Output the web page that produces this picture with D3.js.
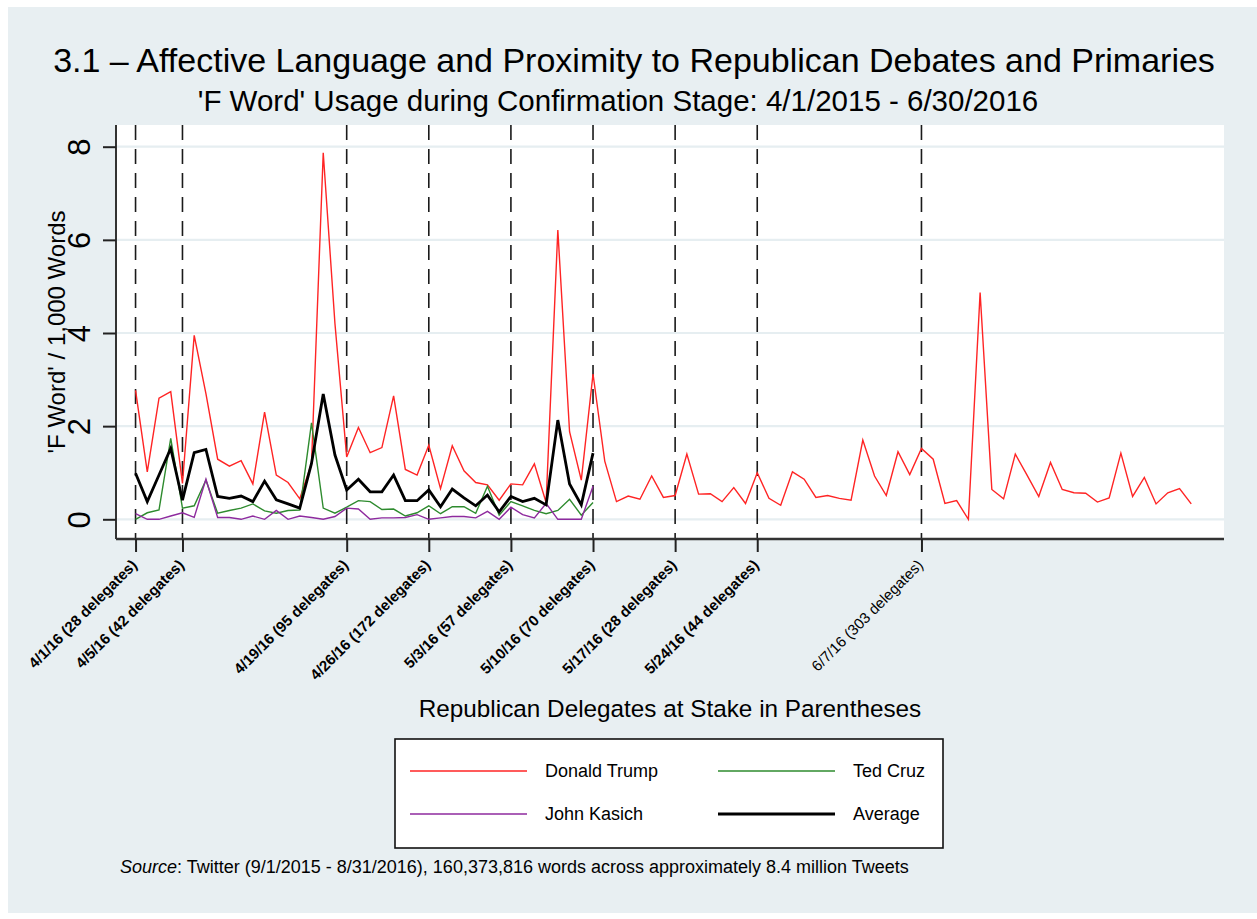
<!DOCTYPE html>
<html>
<head>
<meta charset="utf-8">
<script src="https://cdn.jsdelivr.net/npm/d3@7"></script>
<style>
  body { margin: 0; background: #fff; }
  text { font-family: Helvetica, Arial, "Liberation Sans", sans-serif; }
</style>
</head>
<body>
<div id="chart"></div>
<script>
const _WIDTH = 1257
const _HEIGHT = 919
const _PLOT = { left: 116, right: 1224, top: 125, bottom: 539 }

// Data
// ===================================
const startDate = "2016-04-01"
const endDate = "2016-06-30"

// 'F Word' per 1,000 words, daily 4/1 - 6/30
const trump = [
    2.77, 1.02, 2.6, 2.74, 0.77, 3.95, 2.7, 1.29, 1.14, 1.26,
    0.76, 2.3, 0.95, 0.79, 0.44, 1.2, 7.87, 4.2, 1.34, 1.97,
    1.43, 1.54, 2.65, 1.07, 0.95, 1.59, 0.66, 1.58, 1.04, 0.79,
    0.74, 0.41, 0.76, 0.74, 1.19, 0.36, 6.21, 1.88, 0.84, 3.12,
    1.25, 0.38, 0.5, 0.43, 0.93, 0.47, 0.51, 1.4, 0.54, 0.55,
    0.38, 0.68, 0.34, 1.0, 0.45, 0.3, 1.02, 0.86, 0.47, 0.51,
    0.45, 0.41, 1.7, 0.93, 0.51, 1.45, 0.96, 1.52, 1.29, 0.34,
    0.4, 0.0, 4.87, 0.64, 0.44, 1.4, 0.95, 0.49, 1.22, 0.64,
    0.57, 0.56, 0.37, 0.46, 1.42, 0.49, 0.9, 0.33, 0.57, 0.66,
    0.33
]
// 4/1 - 5/10 only
const cruz = [
    0.0, 0.14, 0.2, 1.74, 0.24, 0.29, 0.84, 0.13, 0.19, 0.24,
    0.33, 0.18, 0.13, 0.19, 0.2, 2.07, 0.24, 0.13, 0.26, 0.4,
    0.38, 0.21, 0.22, 0.07, 0.14, 0.29, 0.12, 0.27, 0.27, 0.13,
    0.71, 0.09, 0.38, 0.29, 0.19, 0.12, 0.19, 0.43, 0.09, 0.36
]
const kasich = [
    0.12, 0.0, 0.0, 0.07, 0.14, 0.04, 0.86, 0.04, 0.04, 0.0,
    0.07, 0.0, 0.19, 0.0, 0.07, 0.04, 0.0, 0.06, 0.24, 0.22,
    0.0, 0.03, 0.03, 0.04, 0.1, 0.0, 0.03, 0.06, 0.06, 0.03,
    0.17, 0.0, 0.26, 0.1, 0.03, 0.34, 0.0, 0.0, 0.0, 0.71
]
const average = [
    0.99, 0.38, 0.95, 1.52, 0.41, 1.43, 1.5, 0.49, 0.45, 0.5,
    0.38, 0.82, 0.42, 0.33, 0.24, 1.2, 2.69, 1.38, 0.63, 0.86,
    0.59, 0.59, 0.95, 0.4, 0.4, 0.63, 0.27, 0.65, 0.46, 0.29,
    0.52, 0.16, 0.49, 0.38, 0.45, 0.31, 2.13, 0.76, 0.31, 1.42
]

const primaryDates = ["2016-04-01", "2016-04-05", "2016-04-19", "2016-04-26", "2016-05-03",
    "2016-05-10", "2016-05-17", "2016-05-24", "2016-06-07"]
const primaryLabels = ["4/1/16 (28 delegates)", "4/5/16 (42 delegates)", "4/19/16 (95 delegates)",
    "4/26/16 (172 delegates)", "5/3/16 (57 delegates)", "5/10/16 (70 delegates)",
    "5/17/16 (28 delegates)", "5/24/16 (44 delegates)", "6/7/16 (303 delegates)"]
const yTicks = [0, 2, 4, 6, 8]

const seriesNames = ["Donald Trump", "Ted Cruz", "John Kasich", "Average"]
const seriesColors = ["#ff2424", "#2e8b2e", "#8e2a9e", "#000000"]
const seriesWidths = [1.4, 1.4, 1.4, 2.8]

// Scales
// ===================================
const parse = d3.utcParse("%Y-%m-%d")
const days = d3.utcDay.range(parse(startDate), d3.utcDay.offset(parse(endDate), 1))
const xScale = d3.scaleUtc()
    .domain([d3.utcHour.offset(parse(startDate), -39.5), d3.utcHour.offset(parse(endDate), 67.5)])
    .range([_PLOT.left, _PLOT.right])
const yScale = d3.scaleLinear().domain([0, 8]).range([519.3, 146.7])

const svg = d3.select("#chart")
    .append("svg")
    .attr("width", _WIDTH)
    .attr("height", _HEIGHT)

// Background
svg.append("rect")
    .attr("x", 8).attr("y", 7)
    .attr("width", _WIDTH - 8).attr("height", 906)
    .attr("fill", "#e8eff2")
svg.append("rect")
    .attr("x", _PLOT.left).attr("y", _PLOT.top)
    .attr("width", _PLOT.right - _PLOT.left).attr("height", _PLOT.bottom - _PLOT.top)
    .attr("fill", "#ffffff")

// Grid
svg.append("g")
    .selectAll("line")
    .data(yTicks)
    .join("line")
    .attr("x1", _PLOT.left).attr("x2", _PLOT.right)
    .attr("y1", d => yScale(d)).attr("y2", d => yScale(d))
    .attr("stroke", "#e6eef1")
    .attr("stroke-width", 2.2)

// Primary date dashed lines
svg.append("g")
    .selectAll("line")
    .data(primaryDates)
    .join("line")
    .attr("x1", d => xScale(parse(d))).attr("x2", d => xScale(parse(d)))
    .attr("y1", _PLOT.top).attr("y2", _PLOT.bottom)
    .attr("stroke", "#1a1a1a")
    .attr("stroke-width", 1.6)
    .attr("stroke-dasharray", "15,9")

// Lines
// ===================================
const allSeries = [trump, cruz, kasich, average]
const line = d3.line()
    .x((d, i) => xScale(days[i]))
    .y(d => yScale(d))
const drawOrder = [0, 1, 2, 3]
svg.append("g")
    .selectAll("path")
    .data(drawOrder)
    .join("path")
    .attr("fill", "none")
    .attr("stroke", i => seriesColors[i])
    .attr("stroke-width", i => seriesWidths[i])
    .attr("stroke-linejoin", "miter")
    .attr("d", i => line(allSeries[i]))

// Axes
// ===================================
const yAxis = svg.append("g")
    .attr("transform", `translate(${_PLOT.left},0)`)
    .call(d3.axisLeft(yScale).tickValues(yTicks).tickSize(13).tickPadding(0).tickFormat(d3.format("d")))
yAxis.select(".domain").attr("stroke", "#333").attr("stroke-width", 2)
    .attr("d", `M0,${_PLOT.top}V${_PLOT.bottom}`)
yAxis.selectAll(".tick line").attr("stroke", "#222").attr("stroke-width", 2)
yAxis.selectAll(".tick text")
    .attr("x", null).attr("dy", null)
    .attr("transform", "translate(-26,0)rotate(-90)")
    .attr("text-anchor", "middle")
    .attr("font-size", 31)
    .attr("fill", "#000")

const xAxis = svg.append("g")
    .attr("transform", `translate(0,${_PLOT.bottom})`)
    .call(d3.axisBottom(xScale).tickValues(primaryDates.map(parse)).tickSize(13).tickFormat((d, i) => primaryLabels[i]))
xAxis.select(".domain").attr("stroke", "#333").attr("stroke-width", 2.4)
    .attr("d", `M${_PLOT.left},0H${_PLOT.right}`)
xAxis.selectAll(".tick line").attr("stroke", "#222").attr("stroke-width", 2)
xAxis.selectAll(".tick text")
    .attr("y", null).attr("dy", null)
    .attr("transform", "translate(2,27)rotate(-45)")
    .attr("text-anchor", "end")
    .attr("font-size", 15)
    .attr("font-weight", (d, i) => i === 8 ? "normal" : "bold")
    .attr("fill", "#000")

// Axis titles
svg.append("text")
    .attr("transform", `translate(65,${(_PLOT.top + _PLOT.bottom) / 2})rotate(-90)`)
    .attr("text-anchor", "middle")
    .attr("font-size", 24)
    .text("'F Word' / 1,000 Words")

svg.append("text")
    .attr("x", (_PLOT.left + _PLOT.right) / 2)
    .attr("y", 717)
    .attr("text-anchor", "middle")
    .attr("font-size", 24.3)
    .text("Republican Delegates at Stake in Parentheses")

// Titles
svg.append("text")
    .attr("x", 634).attr("y", 72)
    .attr("text-anchor", "middle")
    .attr("font-size", 34)
    .text("3.1 \u2013 Affective Language and Proximity to Republican Debates and Primaries")
svg.append("text")
    .attr("x", 618).attr("y", 111)
    .attr("text-anchor", "middle")
    .attr("font-size", 29.5)
    .text("'F Word' Usage during Confirmation Stage: 4/1/2015 - 6/30/2016")

// Legend
// ===================================
const legend = svg.append("g")
legend.append("rect")
    .attr("x", 395).attr("y", 739)
    .attr("width", 548).attr("height", 109)
    .attr("fill", "#fff")
    .attr("stroke", "#111")
    .attr("stroke-width", 1.6)
const legendPos = [[410, 771], [718, 771], [410, 814], [718, 814]]
const items = legend.selectAll("g")
    .data(drawOrder)
    .join("g")
    .attr("transform", i => `translate(${legendPos[i][0]},${legendPos[i][1]})`)
items.append("line")
    .attr("x1", 0).attr("x2", 117)
    .attr("stroke", i => seriesColors[i])
    .attr("stroke-width", i => seriesWidths[i])
items.append("text")
    .attr("x", 135).attr("y", 6)
    .attr("font-size", 18)
    .text(i => seriesNames[i])

// Source note
const note = svg.append("text")
    .attr("x", 120).attr("y", 873)
    .attr("font-size", 18)
note.append("tspan").attr("font-style", "italic").text("Source")
note.append("tspan").text(": Twitter (9/1/2015 - 8/31/2016), 160,373,816 words across approximately 8.4 million Tweets")
</script>
</body>
</html>
